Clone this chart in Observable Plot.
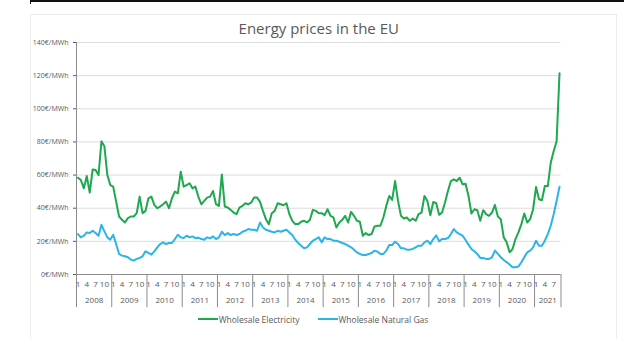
<!DOCTYPE html>
<html><head><meta charset="utf-8">
<script src="https://cdn.jsdelivr.net/npm/d3@7"></script>
<script src="https://cdn.jsdelivr.net/npm/@observablehq/plot@0.6"></script>
<style>
body{margin:0;background:#fff;font-family:"Open Sans",sans-serif;}
#wrap{position:relative;width:624px;height:339px;overflow:hidden;}
#topframe{position:absolute;left:30px;top:0;width:594px;height:4px;border-top:2px solid #111;border-left:1px solid #111;box-sizing:border-box;}
#innerframe{position:absolute;left:30px;top:14px;width:587px;height:340px;border:1px solid #ececec;box-sizing:border-box;}
#legend{height:29px;display:flex;justify-content:center;align-items:flex-start;gap:18px;font-size:8.5px;color:#595959;padding-left:2px;}
#legend .it{display:flex;align-items:center;height:18px;}
#legend .sw{width:20px;height:2.5px;margin-right:1px;}
svg{display:block;}
</style></head>
<body><div id="wrap"><div id="innerframe"></div><div id="topframe"></div><div id="chart"></div>
<div id="legend"></div></div>
<script>
const title = "Energy prices in the EU";
const seriesNames = ["Wholesale Electricity", "Wholesale Natural Gas"];
const seriesColors = ["#1ea84f", "#2ab4e8"];
const years = [2008,2009,2010,2011,2012,2013,2014,2015,2016,2017,2018,2019,2020,2021];
const monthLabels = ["1","4","7","10"];
const yTicks = [0,20,40,60,80,100,120,140];
const yUnit = "€/MWh";
// monthly values, Jan 2008 .. Sep 2021
const electricity = [
 58.4,57,52,59.4,49.4,63.4,63,60,80.4,77.4,60,54,
 53,44,35,33,31.4,34,35,35,37,47,37,38.4,
 46,47,42,40,41,42.4,44,40,46,50,49,62,
 53,54,55,52,53,47,42.4,44.4,46.4,47,50.4,42.4,
 41.4,60.4,41,40.4,39,37.4,36.4,40.4,41.4,43,42.4,43.4,
 46.4,46.4,43.8,38.4,33.4,30.4,37,38.4,43,42.4,41.8,43,
 36.4,32.4,30.4,30.4,31.8,32.4,31.4,33,39,38.4,37,37,
 35.8,39.4,35.4,34.4,28.4,31.4,33,35.4,31.4,37.8,35.4,32.4,
 31.8,23.4,25,23.8,24.4,29,29.4,29.4,34.4,41.4,47.4,45,
 56.4,44.4,35.4,33.8,34.4,32.4,33.8,32.4,36.4,37.4,47.4,44.4,
 35.8,43.8,43,36,37.4,43.4,50.4,56.4,57.4,56.4,58.4,54.4,
 54.8,47.4,36.8,39.4,38.8,32.4,38.8,36.4,35.4,37.4,42,35,
 33.4,22.4,19.4,13.4,15.4,21.4,25.4,30.4,36.8,31.4,33.4,39.4,
 52.8,45.4,44.8,53.4,53.4,67.4,74.4,80.4,121.4
];
const gas = [
 24.4,22.4,23.4,25.4,25,26.4,25,23.4,30,26,22.4,21,
 24,18.4,12.4,11.4,11,10.4,9,8.4,9.4,10,11,14,
 13,12,14,16.4,18.4,19.4,18.4,19,19,21.4,24,22.4,
 22,23.4,22.4,23,22,22.2,21.4,21,22.4,21.8,23,21.4,
 22.4,25.8,23.8,25,23.8,24.4,23.8,24.4,25.8,26.4,27.4,27,
 27,26.4,31.4,28.4,27,26.4,25.8,25.4,26.4,25.8,26.4,27,
 25.4,23.8,21,19,17.4,15.8,16.4,18.4,20.4,21.4,22.4,19.4,
 22.4,21.4,21.4,20.4,20.4,19.8,19,18.4,17.4,16.4,15,13.4,
 12.4,11.8,11.8,12.4,13,14.4,13.8,12.4,12.4,14.4,17.8,17.8,
 19.8,18.4,15.8,15.8,15,15,15.4,16.4,17.4,17.4,19.4,20.4,
 18.4,21.4,23.6,20,21.4,21.4,22,24.4,27.4,25.4,24.4,23.4,
 20.8,18,15.4,14,12.4,10,10,9.4,9.4,10.4,14.4,12.4,
 10.4,8.8,7.4,6,4.4,4.4,4.8,7.4,10.4,13.4,14.4,16.4,
 20.4,17.4,17.4,20.4,24.4,29.4,36.4,44.4,53
];

const n = electricity.length;
const idx = d3.range(n);
const rows = idx.map(i => ({i, e: electricity[i], g: gas[i]}));
const boundaries = years.map((y, k) => k * 12 - 0.5).concat([n - 0.5]);
const yearCenters = years.map((y, k) => ({y, x: k * 12 + (Math.min(12, n - k * 12) - 1) / 2}));
const monthTicks = idx.filter(i => i % 3 === 0);
const txt = "#595959", axisCol = "#8c8c8c";

const plot = Plot.plot({
  width: 624, height: 310,
  marginLeft: 76, marginRight: 63.5, marginTop: 42, marginBottom: 36,
  style: {fontFamily: "'Open Sans', sans-serif", background: "transparent"},
  x: {domain: [-0.5, n - 0.5], axis: null},
  y: {domain: [0, 140], axis: null},
  marks: [
    Plot.gridY(yTicks, {stroke: "#dcdcdc", strokeOpacity: 1}),
    Plot.axisY(yTicks, {tickFormat: d => d + yUnit, tickSize: 3, tickPadding: 5, fontSize: 7, color: txt}),
    Plot.ruleX([-0.5], {y1: 0, y2: 140, stroke: axisCol}),
    Plot.ruleY([0], {stroke: axisCol}),
    Plot.ruleX(boundaries, {x: d => d, y1: 0, y2: -20, stroke: axisCol}),
    Plot.text(monthTicks, {x: d => d, y: 0, dy: 10, text: d => monthLabels[(d % 12) / 3], fontSize: 8, fill: txt}),
    Plot.text(yearCenters, {x: "x", y: 0, dy: 26, text: d => String(d.y), fontSize: 8, fill: txt}),
    Plot.line(rows, {x: "i", y: "g", stroke: seriesColors[1], strokeWidth: 2}),
    Plot.line(rows, {x: "i", y: "e", stroke: seriesColors[0], strokeWidth: 2}),
    Plot.text([title], {frameAnchor: "top", lineAnchor: "middle", dy: -13, fontSize: 15, fill: txt})
  ]
});
document.getElementById("chart").appendChild(plot);
const leg = document.getElementById("legend");
seriesNames.forEach((s, k) => {
  const it = document.createElement("div"); it.className = "it";
  const sw = document.createElement("span"); sw.className = "sw"; sw.style.background = seriesColors[k];
  const t = document.createElement("span"); t.textContent = s;
  it.appendChild(sw); it.appendChild(t); leg.appendChild(it);
});
</script></body></html>
